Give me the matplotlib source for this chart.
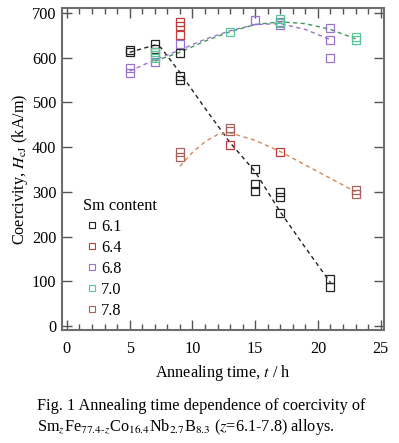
import matplotlib
matplotlib.use('Agg')
import matplotlib.pyplot as plt
from matplotlib.ticker import MultipleLocator
from matplotlib.lines import Line2D

plt.rcParams['font.family'] = 'Liberation Serif'
plt.rcParams['mathtext.fontset'] = 'stix'

# measured points (annealing time t / h, coercivity kA/m)
sm61_t = [5, 5, 7, 7, 9, 9, 9, 15, 15, 15, 17, 17, 17, 21, 21]
sm61_h = [612, 617, 630, 620, 610, 558, 550, 350, 318, 302, 300, 289, 253, 104, 88]

sm64_t = [9, 9, 9, 13, 17]
sm64_h = [680, 671, 650, 405, 390]

sm68_t = [5, 5, 7, 9, 15, 17, 17, 21, 21, 21]
sm68_h = [577, 566, 590, 630, 685, 680, 672, 667, 640, 600]

sm70_t = [7, 7, 7, 13, 17, 17, 23, 23]
sm70_h = [612, 605, 600, 657, 686, 678, 645, 640]

sm78_t = [9, 9, 13, 13, 23, 23]
sm78_h = [388, 378, 442, 435, 305, 295]

# dashed trend curves
fit61_t = [5, 7, 7.5, 9, 11, 13, 15, 17, 19, 21]
fit61_h = [612, 628, 622, 567, 487, 410, 345, 255, 175, 97]

fit68_t = [5, 7, 9, 11, 13, 15, 17, 19, 21]
fit68_h = [570, 595, 617, 641, 660, 674, 676, 663, 640]

fit70_t = [7, 9, 11, 13, 15, 17, 19, 21, 23]
fit70_h = [592, 612, 637, 658, 674, 680, 676, 663, 642]

fit78_t = [9, 10, 11, 12, 13, 15, 17, 20, 23]
fit78_h = [357, 388, 412, 428, 432, 415, 390, 345, 300]

c61 = '#222222'
c64 = '#c23a3a'
c68 = '#9a72c8'
c70 = '#5cc49a'
c78 = '#a8605a'
c78_line = '#d38a5a'

fs = 11.7

fig = plt.figure(figsize=(3.99, 4.43), dpi=100)
ax = fig.add_axes([0.155, 0.255, 0.807, 0.727])

ax.plot(fit61_t, fit61_h, '--', color=c61, lw=1.0, dashes=(3, 2.5))
ax.plot(fit68_t, fit68_h, '--', color=c68, lw=1.0, dashes=(3, 2.5))
ax.plot(fit70_t, fit70_h, '--', color='#3a9a55', lw=1.0, dashes=(3, 2.5))
ax.plot(fit78_t, fit78_h, '--', color=c78_line, lw=1.0, dashes=(3, 2.5))

ms = 6.0
for t, h, c in [(sm61_t, sm61_h, c61), (sm64_t, sm64_h, c64), (sm68_t, sm68_h, c68),
                (sm70_t, sm70_h, c70), (sm78_t, sm78_h, c78)]:
    ax.plot(t, h, 's', mfc='none', mec=c, mew=0.9, ms=ms, ls='none')

ax.set_xlim(-0.4, 25.25)
ax.set_ylim(-9, 711)
ax.xaxis.set_major_locator(MultipleLocator(5))
ax.xaxis.set_minor_locator(MultipleLocator(1))
ax.yaxis.set_major_locator(MultipleLocator(100))
ax.tick_params(which='both', direction='in', top=True, right=True, color='#555555',
               labelsize=fs, width=1.0)
ax.tick_params(which='major', length=7)
ax.tick_params(which='minor', length=4)
ax.tick_params(axis='x', pad=8)
ax.tick_params(axis='y', pad=4)
for s in ax.spines.values():
    s.set_color('#6e6e6e')
    s.set_linewidth(1.5)

ax.set_xlabel('Annealing time, $\\mathit{t}$ / h', fontsize=fs, labelpad=4)
ax.set_ylabel('Coercivity, $\\mathit{H}_{\\rm cJ}$ (kA/m)', fontsize=fs, labelpad=1)

labels = ['6.1', '6.4', '6.8', '7.0', '7.8']
cols = [c61, c64, c68, c70, c78]
handles = [Line2D([], [], marker='s', mfc='none', mec=c, mew=0.8, ms=5.0, ls='none') for c in cols]
leg = ax.legend(handles, labels, title='Sm content', loc='lower left',
                bbox_to_anchor=(0.03, 0.0), frameon=False, fontsize=fs,
                title_fontsize=fs, handletextpad=0.0, labelspacing=0.3,
                handlelength=1.1, borderpad=0.2)
leg._legend_box.align = 'left'

fig.text(0.093, 0.075, 'Fig. 1 Annealing time dependence of coercivity of', fontsize=fs)
fig.text(0.093, 0.028, 'Sm$_{\\mathit{z}}$Fe$_{77.4\\text{-}\\mathit{z}}$Co$_{16.4}$Nb$_{2.7}$B$_{8.3}$ '
         '($\\mathit{z}$=6.1-7.8) alloys.', fontsize=fs)

fig.savefig('out.png', dpi=100)
